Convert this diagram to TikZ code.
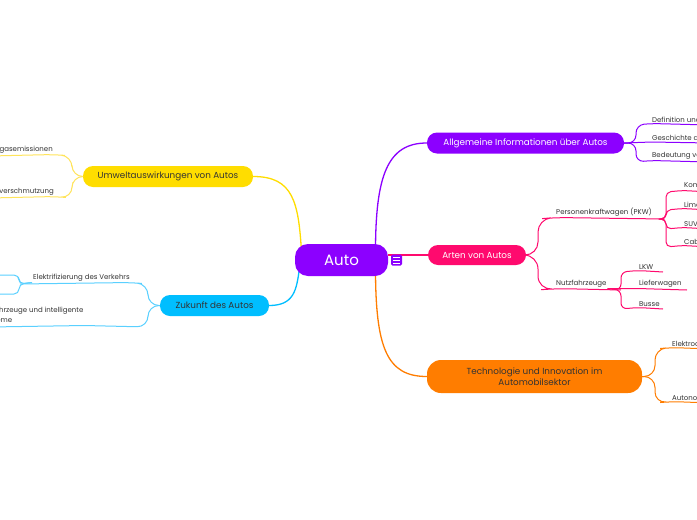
\documentclass[tikz,border=0pt]{standalone}
\usepackage{fontspec}
\setmainfont{Poppins}
\definecolor{purp}{RGB}{140,0,255}
\definecolor{pinkc}{RGB}{255,10,110}
\definecolor{orng}{RGB}{255,125,0}
\definecolor{yell}{RGB}{255,221,0}
\definecolor{yelll}{RGB}{255,228,90}
\definecolor{cyan}{RGB}{0,190,255}
\definecolor{cyanl}{RGB}{90,208,255}
\definecolor{txt}{RGB}{51,51,51}
\pgfdeclarelayer{bg}
\pgfsetlayers{bg,main}
\begin{document}
\begin{tikzpicture}[x=1pt,y=-1pt,
  mainbox/.style={rounded corners=10pt, minimum height=21pt, inner sep=0pt, font=\fontsize{8.8}{11}\selectfont},
  leaf/.style={font=\fontsize{7}{9.5}\selectfont, text=txt, inner sep=1pt},
  conn/.style={draw=#1, line width=1.3pt},
  kid/.style={draw=#1, line width=1pt, rounded corners=8pt}]
\useasboundingbox (0,0) rectangle (697,520);
\begin{pgfonlayer}{bg}
\fill[white] (0,0) rectangle (697,520);
\end{pgfonlayer}
\clip (0,0) rectangle (697,520);

% central node
\node[fill=purp, rounded corners=13pt, minimum width=93pt, minimum height=32pt, inner sep=0pt,
      text=white, font=\fontsize{15}{17}\selectfont] (auto) at (341.5,260) {Auto};
\node[fill=purp, rounded corners=1.5pt, minimum width=11pt, minimum height=11pt, inner sep=0pt] (icon) at (396.5,260) {};
\draw[white, line width=0.8pt] (393,257) -- (400,257) (393,260) -- (400,260) (393,263) -- (400,263);

% main branches
\node[mainbox, fill=purp, text=white, minimum width=197pt] (allg) at (525.5,143) {Allgemeine Informationen über Autos};
\node[mainbox, fill=pinkc, text=white, minimum width=98pt, minimum height=20pt] (arten) at (477,255) {Arten von Autos};
\node[mainbox, fill=orng, text=txt, minimum width=215pt, minimum height=33pt, rounded corners=14pt, align=center] (tech) at (534.5,376.5) {Technologie und Innovation im\\Automobilsektor};
\node[mainbox, fill=yell, text=txt, minimum width=170pt] (umwelt) at (168,176.5) {Umweltauswirkungen von Autos};
\node[mainbox, fill=cyan, text=txt, minimum width=109pt] (zuk) at (214.5,305.5) {Zukunft des Autos};

\begin{pgfonlayer}{bg}
\draw[conn=purp] ([shift={(34,-8)}]auto.center) .. controls +(0,-75) and +(-40,0) .. (allg.west);
\draw[conn=orng] ([shift={(34,8)}]auto.center) .. controls +(0,80) and +(-40,0) .. (tech.west);
\draw[conn=yell] ([shift={(-40,-8)}]auto.center) .. controls +(-3,-50) and +(40,0) .. (umwelt.east);
\draw[conn=cyan] ([shift={(-42,8)}]auto.center) .. controls +(-3,22) and +(25,0) .. (zuk.east);
\draw[conn=pinkc] (auto.east |- arten.west) -- (arten.west);
\end{pgfonlayer}

% Allgemeine children
\node[leaf, anchor=south west] (def) at (651,123.5) {Definition und Merkmale};
\node[leaf, anchor=south west] (gesch) at (651,142) {Geschichte des Autos};
\node[leaf, anchor=south west] (bed) at (651,160.5) {Bedeutung von Autos};
\draw[kid=purp] (allg.east) -- (636,143) -- (636,125) -- (def.south west) -- (710,125);
\draw[kid=purp] (allg.east) -- (gesch.south west) -- (710,143);
\draw[kid=purp] (allg.east) -- (636,143) -- (636,162) -- (bed.south west) -- (710,162);

% Arten children
\node[leaf, anchor=south west] (pkw) at (555,217.5) {Personenkraftwagen (PKW)};
\node[leaf, anchor=south west] (nutz) at (555,288.5) {Nutzfahrzeuge};
\draw[kid=pinkc, rounded corners=13pt] (arten.east) -- (538,255) -- (538,219) -- (pkw.south west) -- (664,219);
\draw[kid=pinkc, rounded corners=14pt] (arten.east) -- (538,255) -- (538,290) -- (nutz.south west) -- (621,290);

\node[leaf, anchor=south west] (kom) at (683,190.5) {Kompaktwagen};
\node[leaf, anchor=south west] (lim) at (683,208.5) {Limousine};
\node[leaf, anchor=south west] (suv) at (683,227.5) {SUV};
\node[leaf, anchor=south west] (cab) at (683,245.5) {Cabrio};
\foreach \n/\y in {kom/192,lim/210,suv/229,cab/247}
  \draw[kid=pinkc, rounded corners=5pt] (664,219) -- (666,219) -- (666,\y) -- (\n.south west) -- (710,\y);

\node[leaf, anchor=south west] (lkw) at (638,270.5) {LKW};
\node[leaf, anchor=south west] (lief) at (638,288.5) {Lieferwagen};
\node[leaf, anchor=south west] (bus) at (638,307.5) {Busse};
\draw[kid=pinkc, rounded corners=6pt] (nutz.south east) -- (621,290) -- (621,272) -- (lkw.south west) -- (663,272);
\draw[kid=pinkc] (nutz.south east) -- (lief.south west) -- (687,290);
\draw[kid=pinkc, rounded corners=6pt] (nutz.south east) -- (621,290) -- (621,309) -- (bus.south west) -- (663,309);

% Technologie children
\node[leaf, anchor=south west] (elek) at (671,347.5) {Elektroautos};
\node[leaf, anchor=south west] (autonom) at (671,401.5) {Autonomes Fahren};
\draw[kid=orng, rounded corners=11pt] (tech.east) -- (655,376.5) -- (655,349) -- (elek.south west) -- (710,349);
\draw[kid=orng, rounded corners=11pt] (tech.east) -- (655,376.5) -- (655,403) -- (autonom.south west) -- (710,403);

% Umwelt children
\node[leaf, anchor=south east] (treib) at (54,154.5) {Treibhausgasemissionen};
\node[leaf, anchor=south east] (luft) at (55,196.5) {Luftverschmutzung};
\draw[kid=yelll, rounded corners=11pt] (umwelt.west) -- (72,176.5) -- (72,156) -- (treib.south east) -- (-10,156);
\draw[kid=yelll, rounded corners=11pt] (umwelt.west) -- (72,176.5) -- (72,198) -- (luft.south east) -- (-10,198);

% Zukunft children
\node[leaf, anchor=south west] (elverk) at (32,282.5) {Elektrifizierung des Verkehrs};
\node[leaf, anchor=south west, align=left] (autfz) at (-49,325.5) {Autonome Fahrzeuge und intelligente\\Verkehrssysteme};
\draw[kid=cyanl, rounded corners=11pt] (zuk.west) -- (148,305.5) -- (148,284) -- (elverk.south east) -- (20,284);
\draw[kid=cyanl, rounded corners=11pt] (zuk.west) -- (148,305.5) -- (148,327) -- (autfz.south east) -- (-10,327);
\coordinate (ev1) at (-10,275);
\coordinate (ev2) at (-10,294);
\draw[kid=cyanl, rounded corners=5pt] (elverk.south west) -- (19,284) -- (19,275) -- (ev1);
\draw[kid=cyanl, rounded corners=5pt] (elverk.south west) -- (19,284) -- (19,294) -- (ev2);
\end{tikzpicture}
\end{document}
